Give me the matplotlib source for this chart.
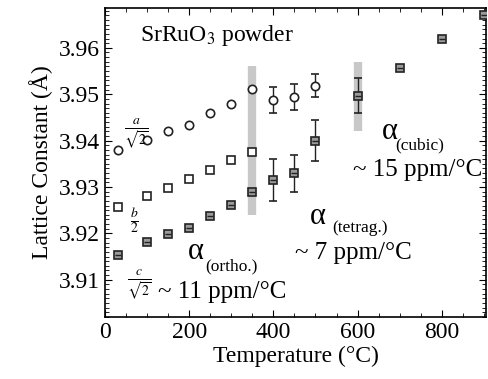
import numpy as np
import matplotlib.pyplot as plt
from matplotlib.ticker import MultipleLocator

# orthorhombic lattice constants
t_ortho = [30, 100, 150, 200, 250, 300, 350]
a_ortho = [3.9380, 3.9401, 3.9420, 3.9433, 3.9460, 3.9480, 3.9512]
b_ortho = [3.9257, 3.9280, 3.9298, 3.9318, 3.9337, 3.9358, 3.9375]
c_ortho = [3.9154, 3.9182, 3.9199, 3.9212, 3.9238, 3.9261, 3.9290]

# tetragonal
t_tet = [400, 450, 500]
a_tet = [3.9487, 3.9494, 3.9518]
a_tet_err = [0.0028, 0.0027, 0.0025]
c_tet = [3.9315, 3.9330, 3.9400]
c_tet_err = [0.0045, 0.0040, 0.0045]

# cubic
t_cub = [600, 700, 800, 900]
a_cub = [3.9497, 3.9557, 3.9618, 3.9670]
a_cub_err = [0.0037, 0.0003, 0.0003, 0.0003]

# phase transition bands
band_t = [350, 600]
band_lo = [3.9240, 3.9420]
band_hi = [3.9560, 3.9570]


def main():
    plt.rcParams['font.family'] = ['Liberation Serif', 'DejaVu Serif']
    plt.rcParams['mathtext.fontset'] = 'stix'
    fig = plt.figure(figsize=(4.88, 3.79), dpi=100)
    ax = fig.add_axes([0.215, 0.164, 0.781, 0.815])

    for t, lo, hi in zip(band_t, band_lo, band_hi):
        ax.plot([t, t], [lo, hi], color='#c8c8c8', lw=6, solid_capstyle='butt', zorder=1)

    ms = 6
    ax.plot(t_ortho, a_ortho, 'o', ms=ms, mfc='white', mec='#222222', mew=1.2, zorder=3)
    ax.plot(t_ortho, b_ortho, 's', ms=ms, mfc='white', mec='#222222', mew=1.2, zorder=3)
    ax.plot(t_ortho, c_ortho, 's', ms=ms, mfc='#9a9a9a', mec='#222222', mew=1.2, zorder=3)
    ax.plot(t_ortho, c_ortho, '_', ms=ms - 1, mec='#222222', mew=1, zorder=4)

    ax.errorbar(t_tet, a_tet, yerr=a_tet_err, fmt='o', ms=ms, mfc='white', mec='#222222',
                mew=1.2, ecolor='#222222', elinewidth=1, capsize=3, zorder=3)
    ax.errorbar(t_tet, c_tet, yerr=c_tet_err, fmt='s', ms=ms, mfc='#9a9a9a', mec='#222222',
                mew=1.2, ecolor='#222222', elinewidth=1, capsize=3, zorder=3)
    ax.errorbar(t_cub, a_cub, yerr=a_cub_err, fmt='s', ms=ms, mfc='#9a9a9a', mec='#222222',
                mew=1.2, ecolor='#222222', elinewidth=1, capsize=3, zorder=3)
    ax.plot(t_tet + t_cub, c_tet + a_cub, '_', ms=ms - 1, mec='#222222', mew=1, zorder=4)

    ax.set_xlim(0, 905)
    ax.set_ylim(3.902, 3.9686)
    ax.xaxis.set_major_locator(MultipleLocator(200))
    ax.xaxis.set_minor_locator(MultipleLocator(50))
    ax.yaxis.set_major_locator(MultipleLocator(0.01))
    ax.yaxis.set_minor_locator(MultipleLocator(0.001))
    ax.tick_params(which='both', direction='in', top=True, right=True, labelsize=17)
    ax.tick_params(which='major', length=5)
    ax.tick_params(which='minor', length=3)
    ax.yaxis.set_major_formatter(plt.FormatStrFormatter('%.2f'))
    for s in ax.spines.values():
        s.set_linewidth(1.2)

    ax.set_xlabel('Temperature (°C)', fontsize=17, labelpad=2)
    ax.set_ylabel('Lattice Constant (Å)', fontsize=17, labelpad=4)

    ax.text(83, 3.9627, 'SrRuO$_3$ powder', fontsize=17, va='center')
    ax.text(45, 3.9415, r'$\frac{a}{\sqrt{2}}$', fontsize=14, va='center')
    ax.text(60, 3.9228, r'$\frac{b}{2}$', fontsize=14, va='center')
    ax.text(52, 3.9089, r'$\frac{c}{\sqrt{2}}$', fontsize=14, va='center')

    ax.text(196, 3.9160, 'α', fontsize=22, va='center')
    ax.text(238, 3.9128, '(ortho.)', fontsize=12.5, va='center')
    ax.text(126, 3.9074, '~ 11 ppm/°C', fontsize=18, va='center')

    ax.text(487, 3.9237, 'α', fontsize=22, va='center')
    ax.text(540, 3.9212, '(tetrag.)', fontsize=12.5, va='center')
    ax.text(452, 3.9158, '~ 7 ppm/°C', fontsize=18, va='center')

    ax.text(657, 3.9420, 'α', fontsize=22, va='center')
    ax.text(690, 3.9390, '(cubic)', fontsize=12.5, va='center')
    ax.text(590, 3.9337, '~ 15 ppm/°C', fontsize=18, va='center')

    fig.savefig('out.png', dpi=100)


if __name__ == "__main__":
    main()
